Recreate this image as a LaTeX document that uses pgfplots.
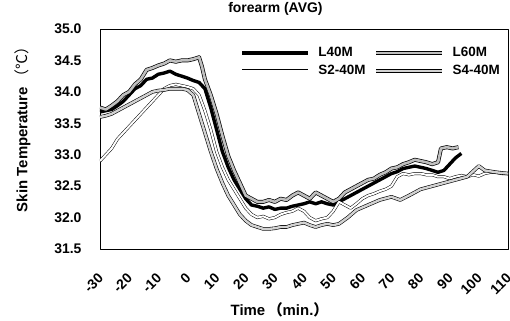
\documentclass[border=0pt]{standalone}
\usepackage{pgfplots}
\pgfplotsset{compat=1.18}
\usepackage{fontspec}
\setmainfont{Liberation Sans}
\newfontfamily\cjk{Noto Sans CJK JP}

\begin{document}
\begin{tikzpicture}
\begin{axis}[
  name=ax,
  scale only axis,
  width=408bp, height=220bp,
  xmin=-30, xmax=110, ymin=31.5, ymax=35.0,
  xtick={-30,-20,...,110},
  ytick={31.5,32.0,...,35.0},
  major tick length=0pt,
  axis line style={line width=0.8pt},
  /pgf/number format/assume math mode=true,
  ticklabel style={font=\fontsize{14}{16}\selectfont\bfseries},
  yticklabel style={/pgf/number format/fixed, /pgf/number format/fixed zerofill, /pgf/number format/precision=1, anchor=east, xshift=-15bp},
  xticklabel style={rotate=45, anchor=north east, xshift=-15bp, yshift=-11bp},
  title={\fontsize{14}{16}\selectfont\bfseries forearm (AVG)},
  title style={at={(0.43,1)}, anchor=south, yshift=4bp},
  xlabel={\fontsize{15}{17}\selectfont\bfseries Time\,{\cjk （}min.{\cjk ）}},
  ylabel={\fontsize{15}{17}\selectfont\bfseries Skin Temperature\,{\cjk\mdseries （℃）}},
  xlabel style={at={(0.44,0)}, anchor=north, yshift=-50bp},
  ylabel style={at={(0,0.56)}, anchor=south, yshift=66bp},
  legend columns=2,
  legend cell align=left,
  legend style={draw=none, fill=none, at={(0.99,0.935)}, anchor=north east,
    font=\fontsize{13.5}{15}\selectfont\bfseries, column sep=8bp, row sep=3bp,
    nodes={inner xsep=1pt}},
  legend image code/.code={\draw[#1] (0cm,0cm) -- (2.3cm,0cm);},
  line join=round,
]
\addplot[black, line width=3.4pt] coordinates {
(-30,33.68) (-28,33.7) (-26,33.72) (-24,33.78) (-22,33.85) (-20,33.95) (-18,34.05) (-16,34.1) (-14,34.2) (-12,34.22) (-10,34.28) (-8,34.3) (-6,34.33) (-4,34.28) (-2,34.25) (0,34.22) (2,34.18) (4,34.15) (6,34.05) (8,33.75) (10,33.4) (12,33.05) (14,32.8) (16,32.6) (18,32.45) (20,32.3) (22,32.2) (24,32.18) (26,32.15) (28,32.17) (30,32.13) (32,32.15) (34,32.15) (36,32.18) (38,32.2) (40,32.22) (42,32.25) (44,32.22) (46,32.25) (48,32.22) (50,32.2) (52,32.25) (54,32.3) (56,32.35) (58,32.4) (60,32.45) (62,32.5) (64,32.55) (66,32.6) (68,32.65) (70,32.7) (72,32.73) (74,32.78) (76,32.8) (78,32.82) (80,32.8) (82,32.78) (84,32.75) (86,32.72) (88,32.75) (90,32.85) (92,32.95) (94,33.02)
};
\addlegendentry{L40M}
\addplot[black, line width=0.7pt, double=gray!50, double distance=2.6pt] coordinates {
(-30,33.75) (-28,33.72) (-26,33.78) (-24,33.85) (-22,33.95) (-20,34.0) (-18,34.12) (-16,34.2) (-14,34.35) (-12,34.38) (-10,34.42) (-8,34.45) (-6,34.5) (-4,34.48) (-2,34.5) (0,34.5) (2,34.52) (4,34.55) (5,34.4) (6,34.2) (8,33.95) (10,33.65) (12,33.3) (14,32.98) (16,32.75) (18,32.55) (20,32.35) (22,32.3) (24,32.25) (26,32.25) (28,32.28) (30,32.25) (32,32.3) (34,32.28) (36,32.35) (38,32.4) (40,32.35) (42,32.3) (44,32.4) (46,32.35) (48,32.3) (50,32.25) (52,32.3) (54,32.4) (56,32.45) (58,32.5) (60,32.55) (62,32.6) (64,32.62) (66,32.68) (68,32.72) (70,32.78) (72,32.8) (74,32.85) (76,32.88) (78,32.92) (80,32.9) (82,32.88) (84,32.85) (86,32.88) (87,33.1) (89,33.12) (91,33.1) (93,33.12)
};
\addlegendentry{L60M}
\addplot[black, line width=0.5pt, double=white, double distance=2pt] coordinates {
(-30,32.9) (-28,33.0) (-26,33.1) (-24,33.25) (-22,33.35) (-20,33.45) (-18,33.55) (-16,33.65) (-14,33.75) (-12,33.85) (-10,33.95) (-8,34.05) (-6,34.1) (-4,34.12) (-2,34.1) (0,34.08) (2,34.05) (4,33.95) (6,33.7) (8,33.4) (10,33.05) (12,32.8) (14,32.6) (16,32.45) (18,32.3) (20,32.15) (22,32.05) (24,32.0) (26,32.02) (28,31.98) (30,32.0) (32,32.05) (34,32.08) (36,32.1) (38,32.15) (40,32.1) (42,32.0) (44,31.95) (46,31.98) (48,32.0) (50,32.1) (52,32.25) (54,32.2) (56,32.15) (58,32.22) (60,32.3) (62,32.35) (64,32.38) (66,32.42) (68,32.45) (70,32.5) (72,32.65) (74,32.7) (76,32.68) (78,32.7) (80,32.7) (82,32.68) (84,32.68) (86,32.65) (88,32.65) (90,32.62) (92,32.65) (94,32.67) (96,32.65) (98,32.68) (100,32.66) (102,32.7) (104,32.72) (106,32.72) (108,32.7) (110,32.7)
};
\addlegendentry{S2-40M}
\addplot[black, line width=0.6pt, double=gray!35, double distance=2.4pt] coordinates {
(-30,33.6) (-28,33.62) (-26,33.65) (-24,33.7) (-22,33.75) (-20,33.8) (-18,33.85) (-16,33.9) (-14,33.95) (-12,34.0) (-10,34.02) (-8,34.03) (-6,34.05) (-4,34.05) (-2,34.05) (0,34.03) (2,33.95) (4,33.65) (6,33.35) (8,33.05) (10,32.78) (12,32.55) (14,32.35) (16,32.2) (18,32.05) (20,31.95) (22,31.88) (24,31.85) (26,31.82) (28,31.82) (30,31.83) (32,31.85) (34,31.85) (36,31.88) (38,31.9) (40,31.92) (42,31.88) (44,31.85) (46,31.88) (48,31.9) (50,31.88) (52,31.9) (55,32.0) (58,32.12) (62,32.2) (66,32.28) (70,32.33) (73,32.28) (76,32.35) (80,32.45) (84,32.5) (88,32.55) (92,32.6) (96,32.65) (100,32.82) (102,32.75) (106,32.72) (110,32.7)
};
\addlegendentry{S4-40M}
\end{axis}
\pgfresetboundingbox
\path (-100bp,-72bp) rectangle (410bp,249bp);
\end{tikzpicture}
\end{document}
